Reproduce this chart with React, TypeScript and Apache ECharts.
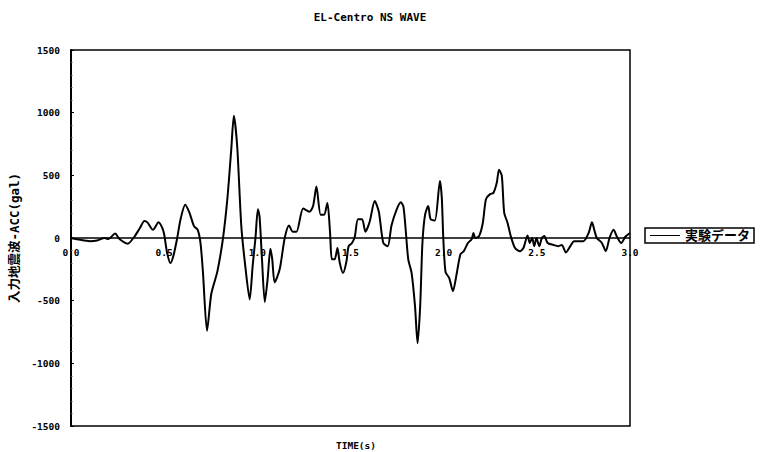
import React, { useEffect, useRef } from "react";
import * as echarts from "echarts";

const titleText = "EL-Centro NS WAVE";
const xAxisTitle = "TIME(s)";
const yAxisTitle = "入力地震波-ACC(gal)";
const seriesName = "実験データ";

const times = [
  0.0, 0.05, 0.1, 0.14, 0.18, 0.2, 0.237, 0.26, 0.305, 0.34, 0.37, 0.394, 0.41, 0.44, 0.47, 0.49, 0.5,
  0.516, 0.534, 0.55, 0.57, 0.588, 0.613, 0.636, 0.66, 0.68, 0.695, 0.708, 0.73, 0.753, 0.785, 0.815,
  0.839, 0.86, 0.874, 0.892, 0.914, 0.935, 0.959, 0.975, 0.99, 1.003, 1.012, 1.025, 1.04, 1.055, 1.07,
  1.08, 1.093, 1.12, 1.147, 1.17, 1.19, 1.21, 1.246, 1.28, 1.3, 1.317, 1.34, 1.358, 1.376, 1.39, 1.4,
  1.415, 1.43, 1.442, 1.46, 1.478, 1.49, 1.508, 1.523, 1.54, 1.562, 1.58, 1.603, 1.63, 1.652, 1.676,
  1.7, 1.72, 1.747, 1.77, 1.784, 1.797, 1.81, 1.828, 1.846, 1.86, 1.874, 1.886, 1.9, 1.917, 1.93,
  1.953, 1.98, 1.99, 1.998, 2.01, 2.03, 2.05, 2.068, 2.09, 2.108, 2.13, 2.15, 2.16, 2.17, 2.19, 2.21,
  2.227, 2.249, 2.267, 2.285, 2.297, 2.312, 2.325, 2.343, 2.36, 2.383, 2.41, 2.428, 2.45, 2.462,
  2.475, 2.486, 2.498, 2.513, 2.527, 2.54, 2.558, 2.588, 2.616, 2.634, 2.656, 2.68, 2.7, 2.75, 2.778,
  2.796, 2.81, 2.822, 2.849, 2.87, 2.89, 2.912, 2.93, 2.953, 2.975, 3.0,
];

const acc = [
  0, -15, -25, -20, 0, -8, 35, -8, -45, 10, 80, 135, 125, 65, 125, 80, 30,
  -120, -200, -140, 0, 150, 265, 200, 95, 65, -40, -270, -740, -445, -270, -10,
  310, 705, 975, 730, 95, -220, -490, -220, 0, 230, 170, -170, -510, -330, -85,
  -170, -355, -250, 0, 100, 50, 50, 235, 210, 260, 410, 185, 185, 280, 50, -170,
  -170, -80, -195, -280, -190, -65, -40, 10, 150, 150, 50, 130, 295, 210, -40,
  -65, 100, 225, 285, 250, 50, -170, -280, -540, -840, -540, -40, 185, 255, 150,
  140, 455, 320, 0, -270, -320, -425, -300, -130, -105, -40, -10, 40, 0, 15, 120,
  310, 350, 360, 440, 545, 495, 200, 120, 15, -80, -105, -80, 20, -40,
  0, -65, 0, -65, 0, 15, -40, -55, -65, -55, -115, -65, -25, -25, 40,
  125, 55, 0, -40, -105, 0, 65, 10, -40, 10, 40,
];

const xTicks = [0, 0.5, 1.0, 1.5, 2.0, 2.5, 3.0];
const yTicks = [-1500, -1000, -500, 0, 500, 1000, 1500];

const MONO = "'DejaVu Sans Mono', 'Liberation Mono', monospace";
const CJK = "'DejaVu Sans Mono', 'Noto Sans CJK JP', sans-serif";

const GRID_TOP = 50;
const GRID_BOTTOM = 26;
const GRID_H = 452 - GRID_TOP - GRID_BOTTOM;

export default function App() {
  const ref = useRef<HTMLDivElement>(null);
  useEffect(() => {
    if (!ref.current) return;
    const chart = echarts.init(ref.current, undefined, { renderer: "svg" });
    const data = times.map((t, i) => [t, acc[i]]);
    chart.setOption({
      animation: false,
      backgroundColor: "#fff",
      title: [
        {
          text: titleText,
          left: 365,
          top: 7,
          textAlign: "center",
          textStyle: { fontFamily: MONO, fontSize: 11, fontWeight: "bold", color: "#000" },
        },
        {
          text: xAxisTitle,
          left: 351,
          top: 435,
          textAlign: "center",
          textStyle: { fontFamily: MONO, fontSize: 9.5, fontWeight: "bold", color: "#000" },
        },
      ],
      legend: {
        left: 645,
        top: 228,
        orient: "horizontal",
        padding: [1, 4, 1, 5],
        borderColor: "#000",
        borderWidth: 1.5,
        itemWidth: 30,
        itemHeight: 10,
        itemGap: 4,
        textStyle: { fontFamily: CJK, fontSize: 13, fontWeight: "bold", color: "#000", lineHeight: 13 },
        data: [{ name: seriesName, icon: "path://M0,5 L30,5 L30,6 L0,6 Z" }],
        itemStyle: { color: "#000" },
      },
      grid: {
        left: 70,
        right: 130,
        top: GRID_TOP,
        bottom: GRID_BOTTOM,
        show: true,
        borderColor: "#000",
        borderWidth: 1.5,
        backgroundColor: "transparent",
      },
      xAxis: {
        type: "value",
        min: xTicks[0],
        max: xTicks[xTicks.length - 1],
        interval: 0.5,
        position: "bottom",
        offset: -GRID_H / 2,
        axisLine: { onZero: false, lineStyle: { color: "#000", width: 1.5 } },
        axisTick: { show: false },
        splitLine: { show: false },
        axisLabel: {
          margin: 9,
          fontFamily: MONO,
          fontSize: 9.5,
          fontWeight: "bold",
          color: "#000",
          formatter: (v: number) => v.toFixed(1),
        },
      },
      yAxis: {
        type: "value",
        min: yTicks[0],
        max: yTicks[yTicks.length - 1],
        interval: 500,
        name: yAxisTitle,
        nameLocation: "middle",
        nameGap: 50,
        nameRotate: 90,
        nameTextStyle: { fontFamily: CJK, fontSize: 12.5, fontWeight: "bold", color: "#000" },
        axisLine: { show: true, lineStyle: { color: "#000", width: 2 } },
        axisTick: { show: true, inside: true, length: 3, lineStyle: { color: "#000" } },
        minorTick: { show: true, splitNumber: 5, length: 1.5, lineStyle: { color: "#555" } },
        splitLine: { show: false },
        axisLabel: {
          margin: 11,
          fontFamily: MONO,
          fontSize: 9.5,
          fontWeight: "bold",
          color: "#000",
          formatter: (v: number) => String(v),
        },
      },
      series: [
        {
          name: seriesName,
          type: "line",
          data,
          symbol: "none",
          smooth: 0.25,
          lineStyle: { color: "#000", width: 2 },
          itemStyle: { color: "#000" },
        },
      ],
    });
    return () => chart.dispose();
  }, []);
  return (
    <div
      ref={ref}
      style={{ position: "fixed", left: 0, top: 0, width: 760, height: 452, background: "#fff" }}
    />
  );
}
